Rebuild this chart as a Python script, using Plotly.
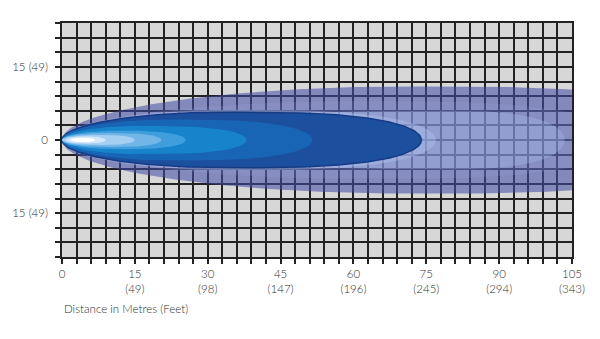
import numpy as np
import plotly.graph_objects as go

# ---- data (metres) ----
zone_names = ["outer", "mid", "inner_light", "halo", "dark_blue", "medium_blue",
              "bright_blue", "light_blue", "lighter_blue", "pale_blue", "paler_blue", "hotspot"]
zone_start = [0.0, 0.0, 0.0, 0.0, 0.0, 0.0, 0.0, 0.0, 0.0, 0.0, 0.8, 1.8]
zone_peak = [72.0, 62.0, 78.0, 35.0, 34.0, 22.0, 16.0, 11.0, 9.0, 7.0, 4.6, 3.8]
zone_end = [140.0, 116.0, 103.5, 77.0, 74.0, 51.5, 38.0, 25.5, 20.5, 15.0, 9.0, 6.8]
zone_halfwidth = [11.0, 8.0, 6.0, 6.2, 5.7, 4.2, 2.9, 1.9, 1.45, 1.05, 0.7, 0.45]

x_tick_values = [0, 15, 30, 45, 60, 75, 90, 105]
x_tick_labels = ["0", "15<br>(49)", "30<br>(98)", "45<br>(147)", "60<br>(196)",
                 "75<br>(245)", "90<br>(294)", "105<br>(343)"]
y_tick_values = [15, 0, -15]
y_tick_labels = ["15 (49)", "0", "15 (49)"]
grid_step = 3
x_range = [0, 105]
y_range = [-24, 24]
x_title = "Distance in Metres (Feet)"

# ---- styles ----
zone_fill = ["rgba(68,76,165,0.56)", "rgba(150,165,225,0.18)", "rgba(170,192,238,0.33)",
             "rgba(175,195,240,0.40)", "#1d4f9f", "#1865b5", "#1783cb", "#3f9edb",
             "#72b6e8", "#a5cff1", "#d4e8f9", "#ffffff"]
zone_line = [None, None, None, None, "#163b85", None, None, None, None, None, None, None]


def zone_outline(s, c, e, w, n=240):
    t = np.linspace(0, np.pi, n)
    xs = s + (e - s) * (1 - np.cos(t)) / 2
    ws = np.zeros_like(xs)
    left = xs <= c
    dl = (c - xs[left]) / (c - s)
    ws[left] = w * np.sqrt(np.clip(1 - dl ** 2, 0, 1))
    dr = (xs[~left] - c) / (e - c)
    ws[~left] = w * np.sqrt(np.clip(1 - dr ** 3, 0, 1))
    px = np.concatenate([xs, xs[::-1]])
    py = np.concatenate([ws, -ws[::-1]])
    return px, py


fig = go.Figure()
for i, name in enumerate(zone_names):
    px, py = zone_outline(zone_start[i], zone_peak[i], zone_end[i], zone_halfwidth[i])
    lc = zone_line[i]
    fig.add_trace(go.Scatter(
        x=px, y=py, mode="lines", fill="toself", fillcolor=zone_fill[i],
        line=dict(width=1.5 if lc else 0, color=lc if lc else "rgba(0,0,0,0)"),
        hoverinfo="skip", showlegend=False, name=name))

all_x = list(range(x_range[0], x_range[1] + 1, grid_step))
all_y = list(range(y_range[0], y_range[1] + 1, grid_step))
xt = [("" if v not in x_tick_values else x_tick_labels[x_tick_values.index(v)]) for v in all_x]
yt = [("" if v not in y_tick_values else y_tick_labels[y_tick_values.index(v)]) for v in all_y]

font = dict(family="Lato, 'Open Sans', sans-serif", size=11.5, color="#2e2e2e", weight=300)

fig.update_xaxes(range=x_range, tickmode="array", tickvals=all_x, ticktext=xt,
                 showgrid=True, gridcolor="#222222", gridwidth=1.5,
                 ticks="outside", ticklen=5, tickwidth=1.5, tickcolor="#222222",
                 showline=True, linecolor="#222222", linewidth=1.5, mirror=True,
                 zeroline=False, tickfont=font, fixedrange=True)
fig.update_yaxes(range=y_range, tickmode="array", tickvals=all_y, ticktext=yt,
                 showgrid=True, gridcolor="#222222", gridwidth=1.5,
                 ticks="outside", ticklen=5, tickwidth=1.5, tickcolor="#222222",
                 showline=True, linecolor="#222222", linewidth=1.5, mirror=True,
                 zeroline=False, tickfont=font, ticklabelstandoff=5, fixedrange=True)

fig.add_annotation(text=x_title, xref="paper", yref="paper", x=0, y=-0.185,
                   xanchor="left", yanchor="top", showarrow=False, font=font)

fig.update_layout(width=600, height=339, margin=dict(l=62, r=28, t=23, b=82),
                  paper_bgcolor="white", plot_bgcolor="#d7d7d7", showlegend=False)

fig.write_html("out.html", config={"displayModeBar": False})
